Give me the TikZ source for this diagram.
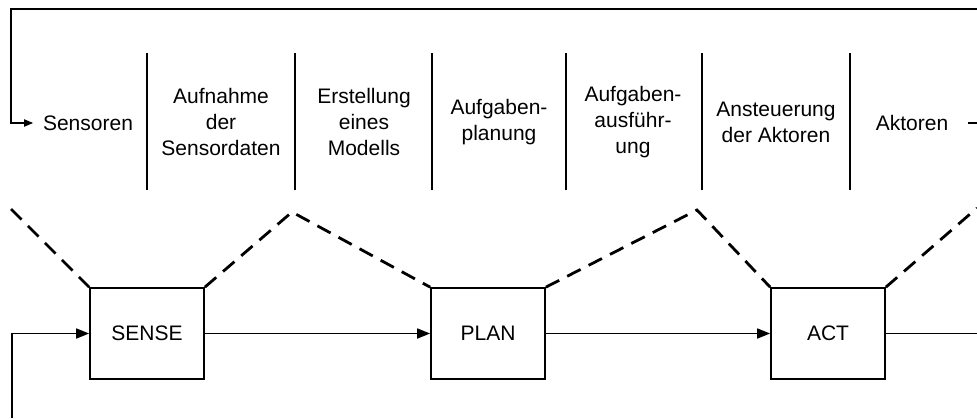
\documentclass[tikz,border=0pt]{standalone}
\usepackage{fontspec}
\setmainfont{Liberation Sans}
\usetikzlibrary{arrows.meta}
\begin{document}
\begin{tikzpicture}[x=1pt,y=-1pt,
  line width=1.7pt,
  font=\fontsize{21}{26}\selectfont,
  blk/.style={draw,minimum width=114pt,minimum height=91pt,inner sep=0pt},
  lbl/.style={align=center,inner sep=0pt},
  sep/.style={line width=1.7pt},
  flow/.style={-{Triangle[length=13pt,width=10pt]}},
  small/.style={-{Triangle[length=9pt,width=7pt]}},
  link/.style={line width=2.8pt,dash pattern=on 15pt off 9pt}]
\useasboundingbox (0,0) rectangle (977,418);
\clip (0,0) rectangle (977,418);

% processing stages along the top
\node[lbl] (sens) at (88,123) {Sensoren};
\node[lbl] (aufn) at (221,122) {Aufnahme\\der\\Sensordaten};
\node[lbl] (erst) at (364,122) {Erstellung\\eines\\Modells};
\node[lbl] (plang) at (499,122) {Aufgaben-\\planung};
\node[lbl] (ausf) at (633,122) {Aufgaben-\\ausführ-\\ung};
\node[lbl] (anst) at (776,122) {Ansteuerung\\der Aktoren};
\node[lbl] (akt) at (912,123) {Aktoren};

% separators between the stages
\foreach \x/\n in {147/a,295/b,432/c,566/d,702/e,850/f}{
  \coordinate (s\n t) at (\x,53);
  \coordinate (s\n b) at (\x,190);
  \draw[sep] (s\n t) -- (s\n b);
}

% SENSE - PLAN - ACT chain
\node[blk] (sense) at (147,333.5) {SENSE};
\node[blk] (plan) at (488,333.5) {PLAN};
\node[blk] (act) at (828,333.5) {ACT};

\coordinate (fbtop) at (977,9);
\coordinate (fbcorner) at (11,9);
\coordinate (fbin) at (11,123);
\coordinate (aktstart) at (968,123);
\coordinate (aktout) at (977,123);
\coordinate (actout) at (977,333.5);
\coordinate (loopbot) at (12,418);
\coordinate (loopin) at (12,333.5);

\draw[small,shorten >=9pt] (fbtop) -- (fbcorner) -- (fbin) -- (sens.west);
\draw (aktstart) -- (aktout);
\draw[flow] (loopbot) -- (loopin) -- (sense.west);
\draw[flow] (sense) -- (plan);
\draw[flow] (plan) -- (act);
\draw (act.east) -- (actout);

% dashed links from the boxes to the stage groups
\coordinate (dl) at (11,209);
\coordinate (peak1) at (292,212);
\coordinate (peak2) at (697,210);
\coordinate (dr) at (977,208);
\draw[link] (dl) -- (sense.north west);
\draw[link] (sense.north east) -- (peak1) -- (plan.north west);
\draw[link] (plan.north east) -- (peak2) -- (act.north west);
\draw[link] (act.north east) -- (dr);
\end{tikzpicture}
\end{document}
